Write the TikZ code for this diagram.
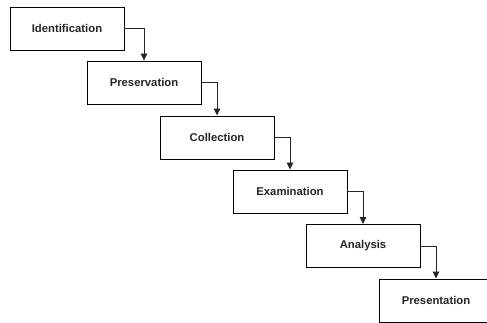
\documentclass[tikz,border=0pt]{standalone}
\usepackage{fontspec}
\setmainfont{Liberation Sans}
\usetikzlibrary{arrows.meta}
\begin{document}
\begin{tikzpicture}[x=1pt,y=-1pt,
  stage/.style={draw=black, line width=0.9pt, minimum width=114pt, minimum height=43pt,
    inner sep=0pt, font=\fontsize{11.3}{13}\selectfont\bfseries, text=black!85},
  conn/.style={draw=black!85, line width=0.9pt, -{Triangle[length=7pt,width=6.5pt]}}]
\useasboundingbox (0,0) rectangle (487,323);
\clip (0,0) rectangle (487,323);
\node[stage] (s1) at (67,28.5) {Identification};
\node[stage] (s2) at (144,82.5) {Preservation};
\node[stage] (s3) at (217,137.5) {Collection};
\node[stage] (s4) at (290,191.5) {Examination};
\node[stage] (s5) at (363,246) {Analysis};
\node[stage] (s6) at (436,300.5) {Presentation};
\draw[conn] (s1.east) -| (s2.north);
\draw[conn] (s2.east) -| (s3.north);
\draw[conn] (s3.east) -| (s4.north);
\draw[conn] (s4.east) -| (s5.north);
\draw[conn] (s5.east) -| (s6.north);
\end{tikzpicture}
\end{document}
